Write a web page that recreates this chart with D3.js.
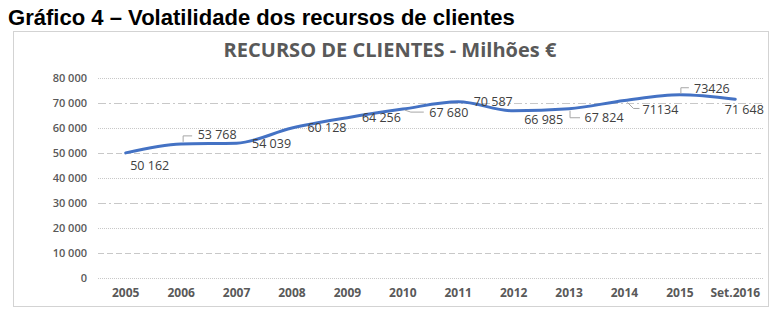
<!DOCTYPE html>
<html>
<head>
<meta charset="utf-8">
<script src="https://cdn.jsdelivr.net/npm/d3@7"></script>
<style>
  html, body { margin: 0; padding: 0; background: #fff; }
</style>
</head>
<body>
<svg id="chart" width="781" height="316"></svg>
<script>
// ---- data ----
const categories = ["2005","2006","2007","2008","2009","2010","2011","2012","2013","2014","2015","Set.2016"];
const values = [50162, 53768, 54039, 60128, 64256, 67680, 70587, 66985, 67824, 71134, 73426, 71648];
const valueLabels = ["50 162","53 768","54 039","60 128","64 256","67 680","70 587","66 985","67 824","71134","73426","71 648"];
const yTicks = [0, 10000, 20000, 30000, 40000, 50000, 60000, 70000, 80000];
const pageTitle = "Gráfico 4 – Volatilidade dos recursos de clientes";
const chartTitle = "RECURSO DE CLIENTES - Milhões €";

// ---- layout (label offsets relative to point) ----
const labelOffsets = [[24,13],[36,-9],[35,0],[35,0],[34,0],[46,4],[35,0],[30,8.5],[35,9],[36,9],[32,-6],[9,10]];
const leaders = {1:[[2,-2],[2,-8],[11,-8]], 5:[[2,1],[8,3],[21,3]], 8:[[1,2],[1,9],[11,9]], 9:[[3,2],[9,8],[15,8]], 10:[[1,-1],[1,-7],[9,-7]]};

const svg = d3.select("#chart");

// page title
const t1 = svg.append("text").attr("x", 8).attr("y", 25)
  .attr("font-family", "Liberation Sans, Arial, sans-serif").attr("font-weight", "bold")
  .attr("font-size", 100).attr("fill", "#000").text(pageTitle);
const w1 = t1.node().getComputedTextLength();
t1.attr("font-size", 100 * 507 / w1);

// chart border
svg.append("rect").attr("x", 13.5).attr("y", 31.5).attr("width", 755).attr("height", 275)
  .attr("fill", "none").attr("stroke", "#a6a6a6").attr("stroke-width", 1).attr("stroke-dasharray", "1,1");

// chart title
const t2 = svg.append("text").attr("x", 390).attr("y", 57).attr("text-anchor", "middle")
  .attr("font-family", "Open Sans, sans-serif").attr("font-weight", "bold")
  .attr("font-size", 100).attr("fill", "#595959").text(chartTitle);
const w2 = t2.node().getComputedTextLength();
t2.attr("font-size", 100 * 333 / w2);

// scales
const x = d3.scaleBand().domain(categories).range([98, 763]);
const y = d3.scaleLinear().domain([0, 80000]).range([278.3, 78.3]);

// gridlines
const dashes = ["1,1", "6,3", "1,1", "8,3,2,3", "1,1", "6,3", "1,1", "8,3,2,3", "1,1"];
svg.append("g").selectAll("line").data(yTicks).join("line")
  .attr("x1", 98).attr("x2", 763)
  .attr("y1", d => Math.round(y(d)) + 0.5).attr("y2", d => Math.round(y(d)) + 0.5)
  .attr("stroke", "#c8c8c8").attr("stroke-width", 1)
  .attr("stroke-dasharray", (d, i) => dashes[i]);

// y axis
const fmt = d => d3.format(",")(d).replace(/,/g, " ");
const yAxis = svg.append("g").attr("transform", "translate(96,0)")
  .call(d3.axisLeft(y).tickValues(yTicks).tickFormat(fmt).tickSize(0).tickPadding(9));
yAxis.select(".domain").remove();
yAxis.selectAll("text").attr("font-family", "Open Sans, sans-serif").attr("font-size", 11)
  .attr("font-weight", 600).attr("fill", "#595959");

// x axis
const xAxis = svg.append("g").attr("transform", "translate(0,278.3)")
  .call(d3.axisBottom(x).tickSize(0).tickPadding(10));
xAxis.select(".domain").remove();
xAxis.selectAll("text").attr("font-family", "Open Sans, sans-serif").attr("font-size", 12)
  .attr("font-weight", "bold").attr("fill", "#595959");

// line
const pts = categories.map((c, i) => [x(c) + x.bandwidth() / 2, y(values[i])]);
svg.append("path").datum(pts)
  .attr("d", d3.line().curve(d3.curveMonotoneX))
  .attr("fill", "none").attr("stroke", "#4472C4").attr("stroke-width", 3)
  .attr("stroke-linejoin", "round").attr("stroke-linecap", "round");

// leader lines
Object.entries(leaders).forEach(([i, segs]) => {
  const p = pts[+i];
  svg.append("path").datum(segs.map(s => [p[0] + s[0], p[1] + s[1]]))
    .attr("d", d3.line()).attr("fill", "none").attr("stroke", "#a6a6a6").attr("stroke-width", 1);
});

// data labels
svg.append("g").selectAll("text").data(pts).join("text")
  .attr("x", (p, i) => p[0] + labelOffsets[i][0])
  .attr("y", (p, i) => p[1] + labelOffsets[i][1])
  .attr("dy", "0.35em").attr("text-anchor", "middle")
  .attr("font-family", "Open Sans, sans-serif").attr("font-size", 12.5)
  .attr("fill", "#404040").text((p, i) => valueLabels[i]);
</script>
</body>
</html>
